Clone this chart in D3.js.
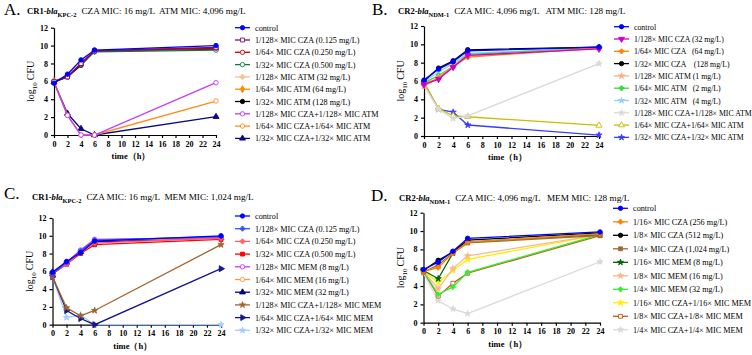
<!DOCTYPE html>
<html>
<head>
<meta charset="utf-8">
<script src="https://cdn.jsdelivr.net/npm/d3@7"></script>
<style>
  body { margin: 0; background: #fff; }
  svg { display: block; font-family: "Liberation Serif", "Times New Roman", serif; }
</style>
</head>
<body>
<div id="chart"></div>
<script>
// time points shared by all four panels
const timesH = [0, 2, 4, 6, 24];
const xTickLabels = [0, 2, 4, 6, 8, 10, 12, 14, 16, 18, 20, 22, 24];
const yTickLabels = [0, 2, 4, 6, 8, 10, 12];

// Panel A: CR1-blaKPC-2, CZA + ATM
const labelsA = ["control", "1/128\u00d7 MIC CZA (0.125 mg/L)", "1/64\u00d7 MIC CZA (0.250 mg/L)", "1/32\u00d7 MIC CZA (0.500 mg/L)",
  "1/128\u00d7 MIC ATM (32 mg/L)", "1/64\u00d7 MIC ATM (64 mg/L)", "1/32\u00d7 MIC ATM (128 mg/L)",
  "1/128\u00d7 MIC CZA+1/128\u00d7 MIC ATM", "1/64\u00d7 MIC CZA+1/64\u00d7 MIC ATM", "1/32\u00d7 MIC CZA+1/32\u00d7 MIC ATM"];
const valuesA = [
  [5.8, 6.8, 8.4, 9.5, 10.0],
  [6.0, 6.5, 8.0, 9.4, 9.8],
  [6.0, 6.5, 8.0, 9.4, 9.7],
  [5.9, 6.6, 7.9, 9.3, 9.5],
  [6.0, 6.6, 8.1, 9.5, 9.8],
  [6.0, 6.6, 8.0, 9.4, 9.7],
  [5.9, 6.5, 7.8, 9.4, 9.6],
  [5.9, 2.2, 0.0, 0.0, 5.85],
  [5.9, 2.2, 0.0, 0.0, 3.8],
  [5.9, 2.4, 0.7, 0.0, 2.05]
];
const colorsA = ["#0000ff", "#7a0f6e", "#c00000", "#107a3a", "#f8c08c", "#ff8a00", "#000000", "#c43cf5", "#ff8c1a", "#0a0a80"];
const shapesA = ["circle", "squareOpen", "circleOpen", "circleOpen", "cross", "diamond", "circle", "circleOpen", "circleOpen", "triangle"];

// Panel B: CR2-blaNDM-1, CZA + ATM
const labelsB = ["control", "1/128\u00d7 MIC CZA (32 mg/L)", "1/64\u00d7 MIC CZA   (64 mg/L)", "1/32\u00d7 MIC CZA    (128 mg/L)",
  "1/128\u00d7 MIC ATM (1 mg/L)", "1/64\u00d7 MIC ATM   (2 mg/L)", "1/32\u00d7 MIC ATM   (4 mg/L)",
  "1/128\u00d7 MIC CZA+1/128\u00d7 MIC ATM", "1/64\u00d7 MIC CZA+1/64\u00d7 MIC ATM", "1/32\u00d7 MIC CZA+1/32\u00d7 MIC ATM"];
const valuesB = [
  [6.1, 7.3, 8.1, 9.3, 9.7],
  [5.6, 6.2, 7.5, 8.8, 9.5],
  [5.7, 6.3, 7.6, 8.6, 9.6],
  [6.0, 7.4, 8.2, 9.4, 9.7],
  [5.4, 6.4, 7.6, 8.7, 9.6],
  [5.8, 6.6, 7.6, 8.9, 9.6],
  [5.9, 7.0, 7.9, 9.0, 9.7],
  [5.5, 2.9, 1.9, 2.2, 7.9],
  [5.8, 3.0, 2.2, 2.1, 1.15],
  [5.8, 2.9, 2.6, 1.2, 0.1]
];
const colorsB = ["#0000ff", "#cc00cc", "#ff8000", "#000000", "#f4b183", "#33dd33", "#99ccff", "#d9d9d9", "#c8bc00", "#3b3bff"];
const shapesB = ["circle", "triangleDown", "cross", "circle", "star", "cross", "star", "star", "triangleOpen", "star"];

// Panel C: CR1-blaKPC-2, CZA + MEM
const labelsC = ["control", "1/128\u00d7 MIC CZA (0.125 mg/L)", "1/64\u00d7 MIC CZA (0.250 mg/L)", "1/32\u00d7 MIC CZA (0.500 mg/L)",
  "1/128\u00d7 MIC MEM (8 mg/L)", "1/64\u00d7 MIC MEM (16 mg/L)", "1/32\u00d7 MIC MEM (32 mg/L)",
  "1/128\u00d7 MIC CZA+1/128\u00d7 MIC MEM", "1/64\u00d7 MIC CZA+1/64\u00d7 MIC MEM", "1/32\u00d7 MIC CZA+1/32\u00d7 MIC MEM"];
const valuesC = [
  [5.9, 7.1, 8.1, 9.4, 10.0],
  [5.7, 7.0, 8.3, 9.5, 9.9],
  [5.8, 6.8, 8.2, 9.2, 9.7],
  [5.7, 6.8, 8.0, 9.0, 9.6],
  [5.8, 7.0, 8.4, 9.6, 9.8],
  [5.8, 6.9, 8.3, 9.5, 9.7],
  [5.9, 7.0, 8.2, 9.3, 9.8],
  [5.4, 1.9, 1.0, 1.6, 9.0],
  [5.4, 1.6, 0.7, 0.0, 6.3],
  [5.4, 0.8, 1.1, 0.0, 0.0]
];
const colorsC = ["#0000ff", "#3355ff", "#ff6060", "#ff0000", "#cc33ff", "#ff9933", "#000080", "#a0642d", "#16168c", "#a6cbff"];
const shapesC = ["circle", "cross", "cross", "square", "circleOpen", "circleOpen", "triangle", "star", "triangleRight", "star"];

// Panel D: CR2-blaNDM-1, CZA + MEM
const labelsD = ["control", "1/16\u00d7 MIC CZA (256 mg/L)", "1/8\u00d7 MIC CZA (512 mg/L)", "1/4\u00d7 MIC CZA (1,024 mg/L)",
  "1/16\u00d7 MIC MEM (8 mg/L)", "1/8\u00d7 MIC MEM (16 mg/L)", "1/4\u00d7 MIC MEM (32 mg/L)",
  "1/16\u00d7 MIC CZA+1/16\u00d7 MIC MEM", "1/8\u00d7 MIC CZA+1/8\u00d7 MIC MEM", "1/4\u00d7 MIC CZA+1/4\u00d7 MIC MEM"];
const valuesD = [
  [5.8, 6.6, 7.8, 9.2, 9.9],
  [5.6, 6.0, 7.6, 8.8, 9.7],
  [5.7, 6.8, 7.7, 9.0, 9.8],
  [5.5, 6.3, 7.6, 8.7, 9.5],
  [5.7, 4.8, 7.6, 8.8, 9.6],
  [5.6, 3.7, 5.9, 7.3, 9.6],
  [5.6, 3.1, 3.9, 5.5, 9.6],
  [5.6, 4.4, 5.7, 6.9, 9.6],
  [5.6, 2.9, 4.3, 5.4, 9.5],
  [5.4, 2.4, 1.5, 1.0, 6.65]
];
const colorsD = ["#0000ff", "#ff8000", "#000000", "#9c6b30", "#006400", "#f8b98a", "#33ee33", "#ffee00", "#c55a11", "#d9d9d9"];
const shapesD = ["circle", "cross", "circle", "square", "star", "star", "cross", "star", "squareOpen", "star"];

const W = 752, H = 355;
const svg = d3.select("#chart").append("svg").attr("width", W).attr("height", H);

const panels = [
  {letter: "A.", strain: "CR1-", sub: "KPC-2", rest: "CZA MIC: 16 mg/L  ATM MIC: 4,096 mg/L",
   lx: 4, ly: 15, tx: 27, ty: 14,
   x0: 54, x1: 216, y0: 135, y1: 27.7, legX: 235, legY: 27.7, legDy: 12.3, legFont: 8.2,
   labels: labelsA, values: valuesA, colors: colorsA, shapes: shapesA},
  {letter: "B.", strain: "CR2-", sub: "NDM-1", rest: "CZA MIC: 4,096 mg/L   ATM MIC: 128 mg/L",
   lx: 372, ly: 15, tx: 398, ty: 14,
   x0: 424, x1: 599, y0: 136, y1: 26, legX: 614, legY: 26.7, legDy: 12.3, legFont: 7.8,
   labels: labelsB, values: valuesB, colors: colorsB, shapes: shapesB},
  {letter: "C.", strain: "CR1-", sub: "KPC-2", rest: "CZA MIC: 16 mg/L  MEM MIC: 1,024 mg/L",
   lx: 4, ly: 199, tx: 32, ty: 200,
   x0: 52.5, x1: 221, y0: 324.7, y1: 218, legX: 235, legY: 216, legDy: 12.7, legFont: 8.2,
   labels: labelsC, values: valuesC, colors: colorsC, shapes: shapesC},
  {letter: "D.", strain: "CR2-", sub: "NDM-1", rest: "CZA MIC: 4,096 mg/L   MEM MIC: 128 mg/L",
   lx: 371, ly: 201, tx: 399, ty: 201,
   x0: 423.5, x1: 600, y0: 322.7, y1: 212.7, legX: 613, legY: 208.3, legDy: 13.5, legFont: 8.2,
   labels: labelsD, values: valuesD, colors: colorsD, shapes: shapesD}
];

function symbolFor(name) {
  if (name.startsWith("circle")) return d3.symbolCircle;
  if (name.startsWith("square")) return d3.symbolSquare;
  if (name.startsWith("triangle")) return d3.symbolTriangle;
  if (name === "star") return d3.symbolStar;
  if (name === "cross") return d3.symbolCross;
  if (name === "diamond") return d3.symbolDiamond;
  return d3.symbolCircle;
}

function drawMarker(g, name, color, x, y, size) {
  const s = (name === "star" || name === "cross") ? size * 0.75 : size;
  const p = g.append("path")
    .attr("d", d3.symbol().type(symbolFor(name)).size(s)())
    .attr("stroke", color)
    .attr("stroke-width", 0.9);
  let rot = 0;
  if (name === "triangleDown") rot = 180;
  if (name === "triangleRight") rot = 90;
  p.attr("transform", `translate(${x},${y}) rotate(${rot})`);
  if (name.endsWith("Open")) p.attr("fill", "#fff");
  else p.attr("fill", color);
}

panels.forEach(pn => {
  // panel letter and title
  svg.append("text").attr("x", pn.lx).attr("y", pn.ly)
    .style("font-size", "17px").text(pn.letter);

  const t = svg.append("text").attr("x", pn.tx).attr("y", pn.ty).style("font-size", "9.2px");
  t.append("tspan").style("font-weight", "bold").style("font-size", "8.6px").text(pn.strain);
  t.append("tspan").style("font-weight", "bold").style("font-size", "8.6px").style("font-style", "italic").text("bla");
  t.append("tspan").style("font-weight", "bold").style("font-size", "6.4px").attr("dy", 2.5).text(pn.sub);
  t.append("tspan").attr("dy", -2.5).attr("dx", 5).attr("xml:space", "preserve").style("white-space", "pre").text(pn.rest);

  const x = d3.scaleLinear().domain([0, 24]).range([pn.x0, pn.x1]);
  const y = d3.scaleLinear().domain([0, 12]).range([pn.y0, pn.y1]);

  // axes
  const xAxis = svg.append("g")
    .attr("transform", `translate(0,${pn.y0})`)
    .call(d3.axisBottom(x).tickValues(xTickLabels).tickSize(3).tickSizeOuter(0));
  const yAxis = svg.append("g")
    .attr("transform", `translate(${pn.x0},0)`)
    .call(d3.axisLeft(y).tickValues(yTickLabels).tickSize(3).tickSizeOuter(0));

  [xAxis, yAxis].forEach(ax => {
    ax.selectAll("path, line").attr("stroke", "#000").attr("stroke-width", 1.2);
    ax.selectAll(".tick text")
      .style("font-family", "'Liberation Serif', serif")
      .style("font-weight", "bold")
      .style("font-size", "8px")
      .attr("fill", "#000");
  });

  // axis labels
  svg.append("text")
    .attr("x", (pn.x0 + pn.x1) / 2 - 4)
    .attr("y", pn.y0 + 24)
    .attr("text-anchor", "middle")
    .style("font-weight", "bold")
    .style("font-size", "8.5px")
    .text("time\uff08h\uff09");

  const yl = svg.append("text")
    .attr("transform", `translate(${pn.x0 - 20},${(pn.y0 + pn.y1) / 2}) rotate(-90)`)
    .attr("text-anchor", "middle")
    .style("font-size", "10px");
  yl.append("tspan").text("log");
  yl.append("tspan").attr("dy", 3).style("font-size", "7px").text("10");
  yl.append("tspan").attr("dy", -3).attr("dx", 2).text("CFU");

  // lines and markers, last series drawn first so control is on top
  const line = d3.line().x((d, i) => x(timesH[i])).y(d => y(d));
  const order = d3.range(pn.values.length).reverse();
  order.forEach(k => {
    const g = svg.append("g");
    g.append("path")
      .datum(pn.values[k])
      .attr("fill", "none")
      .attr("stroke", pn.colors[k])
      .attr("stroke-width", 1.3)
      .attr("d", line);
    pn.values[k].forEach((v, i) => drawMarker(g, pn.shapes[k], pn.colors[k], x(timesH[i]), y(v), 16));
  });

  // legend
  pn.labels.forEach((lab, k) => {
    const ly = pn.legY + k * pn.legDy;
    const g = svg.append("g");
    g.append("line")
      .attr("x1", pn.legX).attr("x2", pn.legX + 15)
      .attr("y1", ly).attr("y2", ly)
      .attr("stroke", pn.colors[k]).attr("stroke-width", 1.3);
    drawMarker(g, pn.shapes[k], pn.colors[k], pn.legX + 7.5, ly, 15);
    g.append("text")
      .attr("x", pn.legX + 20)
      .attr("y", ly + 3)
      .attr("xml:space", "preserve")
      .style("white-space", "pre")
      .style("font-size", pn.legFont + "px")
      .text(lab);
  });
});
</script>
</body>
</html>
